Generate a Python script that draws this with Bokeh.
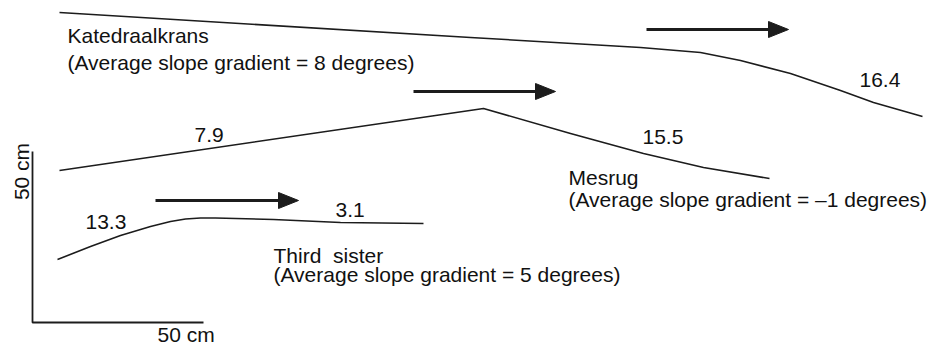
import math
from bokeh.plotting import figure
from bokeh.models import Range1d, ColumnDataSource
from bokeh.core.properties import value
from bokeh.embed import file_html
from bokeh.resources import INLINE

# Slope profiles (diagram coordinates: x to the right, y downwards)
kat_x = [59, 470, 640, 700, 740, 790, 840, 873, 922]
kat_y = [12, 37, 47, 52, 60, 73, 90, 102, 116]
mes_x = [59, 483, 570, 643, 703, 769]
mes_y = [170, 108, 133, 153, 167, 178]
thi_x = [57, 90, 120, 150, 170, 185, 200, 215, 273, 340, 423]
thi_y = [259, 246, 235, 226, 221, 218.5, 217.5, 217.5, 219, 222, 223]

# Direction arrows
arrow_x0 = [646, 413, 155]
arrow_x1 = [788, 555, 298]
arrow_y = [29, 91, 200]

# 50 cm scale bars
scale_x = [32, 32, 203]
scale_y = [151, 322, 322]

# Labels (left x, baseline y)
label_text = ["Katedraalkrans", "(Average slope gradient = 8 degrees)",
              "7.9", "16.4", "15.5",
              "Mesrug", "(Average slope gradient = \u20131 degrees)",
              "13.3", "3.1",
              "Third\u00a0 sister", "(Average slope gradient = 5 degrees)",
              "50 cm"]
label_x = [67, 67, 194, 859, 642, 568, 568, 85, 335, 273, 273, 157]
label_y = [43, 70, 142, 87, 144, 185, 207, 229, 217, 263, 282, 342]

vlabel_text = ["50 cm"]
vlabel_x = [21]
vlabel_y = [171]

INK = "#1c1c1c"
FONT = value("Liberation Sans")
TEXT_SHIFT = 8  # renderer places alphabetic baseline this much lower

W, H = 927, 345
p = figure(width=W, height=H, output_backend="svg", toolbar_location=None,
           x_range=Range1d(0, W), y_range=Range1d(H, 0),
           x_axis_type=None, y_axis_type=None, min_border=0)
p.outline_line_color = None
p.grid.visible = False
p.background_fill_color = "white"

for xs, ys in [(kat_x, kat_y), (mes_x, mes_y), (thi_x, thi_y)]:
    p.line(xs, ys, line_color=INK, line_width=1.6, line_join="round")

# scale bars
p.line(scale_x, scale_y, line_color=INK, line_width=1.8)

# arrows
head_len, head_half = 20, 8
p.segment(x0=arrow_x0, y0=arrow_y, x1=[x - head_len + 2 for x in arrow_x1], y1=arrow_y,
          line_color=INK, line_width=3.2)
p.patches(xs=[[x - head_len, x, x - head_len] for x in arrow_x1],
          ys=[[y - head_half, y, y + head_half] for y in arrow_y],
          fill_color=INK, line_color=INK, line_width=1)

src = ColumnDataSource(dict(x=label_x, y=[y - TEXT_SHIFT for y in label_y], t=label_text))
p.text(x="x", y="y", text="t", source=src, text_font=FONT, text_font_size="21px",
       text_color="#111111", text_align="left", text_baseline="alphabetic")

vsrc = ColumnDataSource(dict(x=vlabel_x, y=vlabel_y, t=vlabel_text))
p.text(x="x", y="y", text="t", source=vsrc, text_font=FONT, text_font_size="21px",
       text_color="#111111", text_align="center", text_baseline="middle",
       angle=math.pi / 2)

open("out.html", "w").write(file_html(p, INLINE))
